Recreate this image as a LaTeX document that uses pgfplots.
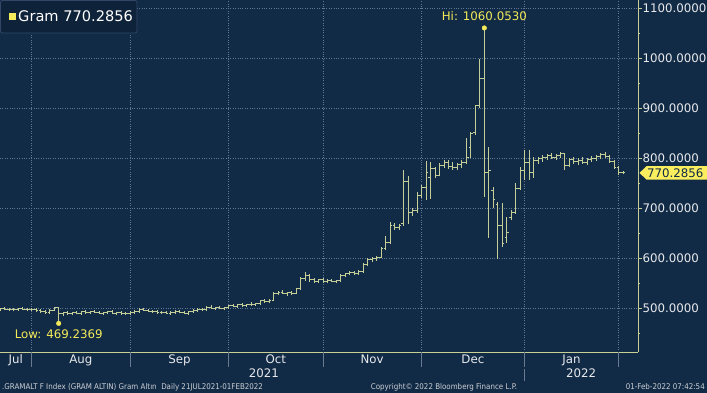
\documentclass[border=0pt]{standalone}
\usepackage{pgfplots}
\pgfplotsset{compat=1.18}
\usepackage{pgfplotstable}
\usepackage{fontspec}
\setmainfont{DejaVu Sans}
\newfontfamily\condfont{DejaVu Sans Condensed}
\definecolor{bg}{RGB}{17,42,70}
\definecolor{gridcol}{RGB}{95,118,148}
\definecolor{barcol}{RGB}{196,206,150}
\definecolor{axiscol}{RGB}{200,208,150}
\definecolor{labcol}{RGB}{232,234,236}
\definecolor{annoyel}{RGB}{245,235,90}
\definecolor{tagcol}{RGB}{250,238,95}
\definecolor{sepcol}{RGB}{105,122,145}
\definecolor{legfill}{RGB}{14,34,58}
\definecolor{legborder}{RGB}{48,72,102}
\definecolor{foot}{RGB}{205,208,212}
\newcommand\labfont{\fontsize{11.8}{13}\selectfont}
\newcommand\footfont{\condfont\fontsize{7.9}{9}\selectfont}
\pgfdeclareplotmark{opentick}{\pgfpathmoveto{\pgfqpoint{-2.2pt}{0pt}}\pgfpathlineto{\pgfqpoint{0pt}{0pt}}\pgfusepathqstroke}
\pgfdeclareplotmark{closetick}{\pgfpathmoveto{\pgfqpoint{0pt}{0pt}}\pgfpathlineto{\pgfqpoint{2.2pt}{0pt}}\pgfusepathqstroke}
\pgfplotstableread{
i o h l c
-8 497 500 494 498
-7 498 501 495 497
-6 497 499 494 496
-5 496 499 493 497
-4 497 500 494 498
-3 498 501 495 496
-2 496 499 493 497
-1 497 500 494 496
0 496 499 492 494
1 494 497 490 492
2 492 495 488 490
3 490 497 488 495
4 495 502 493 500
5 500 501 469.2369 488
6 488 492 484 490
7 490 493 486 488
8 488 492 485 491
9 491 494 487 489
10 489 493 486 492
11 492 495 488 490
12 490 494 487 493
13 493 496 489 491
14 491 494 487 488
15 488 492 485 490
16 490 494 487 492
17 492 495 488 489
18 489 492 486 490
19 490 493 486 488
20 488 491 485 489
21 489 493 486 491
22 491 495 488 493
23 493 499 490 497
24 497 500 493 495
25 495 498 491 493
26 493 496 489 492
27 492 495 488 490
28 490 494 487 491
29 491 494 488 489
30 489 493 486 491
31 491 495 488 493
32 493 496 489 490
33 490 493 487 489
34 489 493 486 492
35 492 497 490 495
36 495 499 492 497
37 497 500 494 496
38 496 503 494 501
39 501 505 498 499
40 499 502 496 500
41 500 503 497 498
42 498 501 495 500
43 500 506 498 504
44 504 508 501 503
45 503 507 500 506
46 506 509 502 504
47 504 508 501 507
48 507 511 504 506
49 506 510 503 508
50 508 516 506 514
51 514 518 510 513
52 513 517 509 515
53 515 532 513 529
54 529 534 525 531
55 531 535 527 528
56 528 532 524 530
57 530 534 526 529
58 529 540 527 538
59 538 562 536 558
60 558 571 554 565
61 565 568 552 556
62 556 560 550 553
63 553 558 550 556
64 556 559 550 553
65 553 557 549 555
66 555 558 551 552
67 552 556 549 554
68 554 567 552 564
69 564 570 561 568
70 568 573 565 570
71 570 574 566 569
72 569 575 566 572
73 572 590 570 586
74 586 600 583 596
75 596 602 592 598
76 598 604 594 601
77 601 622 599 618
78 618 643 615 630
79 630 672 628 665
80 665 670 656 660
81 660 668 656 664
82 668 776 664 752
83 752 763 668 690
84 690 700 684 694
85 694 732 690 725
86 725 745 720 740
87 740 793 716 770
88 760 792 718 778
89 778 782 760 765
90 765 790 763 785
91 785 796 780 790
92 790 795 778 782
93 782 792 776 780
94 780 790 775 786
95 786 795 780 790
96 790 840 788 800
97 820 852 800 848
98 850 906 846 904
99 904 998 900 958
100 958 1060.053 722 770
101 770 822 640 775
102 735 742 700 716
103 706 712 597 664
104 664 710 622 628
105 640 682 630 650
106 680 696 676 690
107 690 750 688 738
108 738 782 736 775
109 775 816 756 790
110 790 816 756 770
111 770 802 760 795
112 795 802 788 798
113 798 806 792 800
114 800 808 795 804
115 804 810 798 801
116 801 808 796 805
117 805 812 800 808
118 808 810 776 785
119 785 800 782 796
120 796 802 788 792
121 792 800 786 795
122 795 801 788 790
123 790 799 786 797
124 797 803 792 799
125 799 806 794 802
126 802 810 798 806
127 806 812 800 803
128 803 806 790 792
129 792 795 778 780
130 780 784 766 770
131 770 773 767 770.2856
}\ohlc
\begin{document}
\begin{tikzpicture}
\path[use as bounding box] (0,0) rectangle (707pt,393pt);
\fill[bg] (0,0) rectangle (707pt,393pt);
\begin{axis}[
  at={(0pt,41pt)}, anchor=south west,
  scale only axis, width=638pt, height=352pt,
  xmin=-8.1, xmax=134.3, ymin=412, ymax=1116,
  axis x line*=bottom, axis y line*=right,
  axis line style={axiscol, line width=0.8pt, -},
  xtick={-1.05,20.95,42.95,63.95,85.95,108.95,129.95},
  xticklabels={},
  x tick style={draw=none},
  ytick={500,600,...,1100},
  minor ytick={450,550,...,1050},
  tick align=outside,
  major tick length=3.5pt, minor tick length=2pt,
  y tick style={axiscol, line width=0.7pt},
  grid=major,
  major grid style={dotted, gridcol, line width=0.5pt},
  yticklabel style={font=\labfont, text=labcol, xshift=-2.5pt},
  /pgf/number format/.cd, fixed, fixed zerofill, precision=4, 1000 sep={}, assume math mode=true,
  /pgfplots/.cd,
  clip mode=individual,
]
\addplot[draw=barcol, line width=1pt, mark=none, forget plot,
  quiver={u=0, v={\thisrow{h}-\thisrow{l}}, every arrow/.append style={draw=barcol, line width=1pt, -}}]
  table[x=i, y=l] {\ohlc};
\addplot[color=barcol, draw=none, mark=opentick, mark options={draw=barcol, color=barcol, line width=1pt}] table[x=i, y=o] {\ohlc};
\addplot[color=barcol, draw=none, mark=closetick, mark options={draw=barcol, color=barcol, line width=1pt}] table[x=i, y=c] {\ohlc};
\addplot[only marks, mark=*, mark size=2.3pt, annoyel] coordinates {(100,1060.053) (5,469.2369)};
\node[annoyel, anchor=base, font=\labfont] at ([yshift=7pt]axis cs:100,1060.053) {Hi: 1060.0530};
\node[annoyel, anchor=base, font=\labfont] at ([yshift=-15pt]axis cs:5,469.2369) {Low: 469.2369};
% month labels
\node[labcol, anchor=base, font=\labfont] at ([yshift=-12pt]axis cs:-4.6,412) {Jul};
\node[labcol, anchor=base, font=\labfont] at ([yshift=-12pt]axis cs:9.95,412) {Aug};
\node[labcol, anchor=base, font=\labfont] at ([yshift=-12pt]axis cs:31.95,412) {Sep};
\node[labcol, anchor=base, font=\labfont] at ([yshift=-12pt]axis cs:53.45,412) {Oct};
\node[labcol, anchor=base, font=\labfont] at ([yshift=-12pt]axis cs:74.95,412) {Nov};
\node[labcol, anchor=base, font=\labfont] at ([yshift=-12pt]axis cs:97.45,412) {Dec};
\node[labcol, anchor=base, font=\labfont] at ([yshift=-12pt]axis cs:119.45,412) {Jan};
\node[labcol, anchor=base, font=\labfont] at ([yshift=-26pt]axis cs:50.8,412) {2021};
\node[labcol, anchor=base, font=\labfont] at ([yshift=-26pt]axis cs:121.6,412) {2022};
\draw[sepcol, line width=0.6pt] (axis cs:-1.05,412) -- ([yshift=-15pt]axis cs:-1.05,412);
\draw[sepcol, line width=0.6pt] (axis cs:20.95,412) -- ([yshift=-15pt]axis cs:20.95,412);
\draw[sepcol, line width=0.6pt] (axis cs:42.95,412) -- ([yshift=-15pt]axis cs:42.95,412);
\draw[sepcol, line width=0.6pt] (axis cs:63.95,412) -- ([yshift=-15pt]axis cs:63.95,412);
\draw[sepcol, line width=0.6pt] (axis cs:85.95,412) -- ([yshift=-15pt]axis cs:85.95,412);
\draw[sepcol, line width=0.6pt] (axis cs:108.95,412) -- ([yshift=-15pt]axis cs:108.95,412);
\draw[sepcol, line width=0.6pt] (axis cs:129.95,412) -- ([yshift=-15pt]axis cs:129.95,412);
\draw[sepcol, line width=0.6pt] ([yshift=-17pt]axis cs:108.95,412) -- ([yshift=-29pt]axis cs:108.95,412);
\end{axis}
% legend box
\draw[legborder, fill=legfill, rounded corners=2pt, line width=0.8pt] (0.5pt,360pt) rectangle (137pt,392.5pt);
\fill[annoyel] (9.3pt,373pt) rectangle (16.3pt,380pt);
\node[anchor=west, inner sep=0pt, text=white, font=\fontsize{14.6}{16}\selectfont] at (18pt,376.5pt) {Gram 770.2856};
% last price tag
\fill[tagcol] (639.5pt,220.1pt) -- (646.5pt,226.8pt) -- (707pt,226.8pt) -- (707pt,213.4pt) -- (646.5pt,213.4pt) -- cycle;
\node[anchor=west, inner sep=0pt, text=bg, font=\labfont] at (647pt,220.1pt) {770.2856};
% footer
\node[anchor=west, inner sep=0pt, text=foot, font=\footfont] at (2pt,6pt) {.GRAMALT F Index (GRAM ALTIN) Gram Altın\ \ Daily 21JUL2021-01FEB2022};
\node[anchor=center, inner sep=0pt, text=foot, font=\footfont] at (444pt,6pt) {Copyright© 2022 Bloomberg Finance L.P.};
\node[anchor=east, inner sep=0pt, text=foot, font=\footfont] at (705pt,6pt) {01-Feb-2022 07:42:54};
\end{tikzpicture}
\end{document}
